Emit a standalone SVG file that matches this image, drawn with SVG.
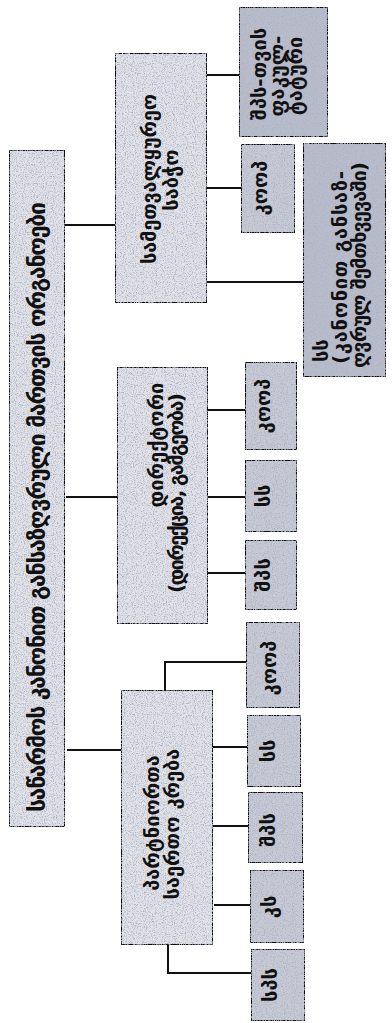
<svg xmlns="http://www.w3.org/2000/svg" width="392" height="1023" viewBox="0 0 392 1023">
<defs>
<filter id="grain" x="0" y="0" width="100%" height="100%">
<feTurbulence type="fractalNoise" baseFrequency="0.9" numOctaves="2" seed="4" result="n"/>
<feColorMatrix in="n" type="matrix" values="0 0 0 0 0.42  0 0 0 0 0.44  0 0 0 0 0.58  -3.2 0 0 0 1.75" result="dots"/>
<feComposite in="dots" in2="SourceGraphic" operator="in" result="d2"/>
<feMerge><feMergeNode in="SourceGraphic"/><feMergeNode in="d2"/></feMerge>
</filter>
</defs>
<style>
.box{stroke:#111;stroke-width:2;filter:url(#grain)}
.light{fill:#e2e3e7}
.dark{fill:#c8cbd4}
.darker{fill:#b9bdca}
.conn{stroke:#111;stroke-width:2;fill:none}
text{font-family:"DejaVu Sans","Noto Sans",sans-serif;fill:#111;dominant-baseline:central;font-weight:bold}
.t1{font-size:23px;text-anchor:middle}
.t2{font-size:20px;text-anchor:middle}
.t3{font-size:20px;text-anchor:middle}
.ts{font-size:20px;text-anchor:start}
</style>

<g id="connectors">
<path class="conn" d="M65 225H115M66 497H117M67 750H121"/>
<path class="conn" d="M207 75H239M207 188H241M207 282H303"/>
<path class="conn" d="M208 410H245M208 497H245M208 573H245"/>
<path class="conn" d="M165 690V662H246M212 747H247M213 826H248M214 905H250M168 945V973H251"/>
</g>

<g id="root">
<rect class="box light" x="9" y="150" width="56" height="677"/>
<text class="t1" transform="translate(37,507) rotate(-90)" textLength="610">საწარმოს კანონით განსაზღვრული მართვის ორგანოები</text>
</g>

<g id="supervisory">
<rect class="box light" x="115" y="53" width="92" height="250"/>
<text class="t2" transform="translate(149,179) rotate(-90)" textLength="170">სამეთვალყურეო</text>
<text class="t2" transform="translate(171,180) rotate(-90)">საბჭო</text>
</g>

<g id="llc-optional">
<rect class="box darker" x="239" y="7" width="89" height="130"/>
<text class="t3" transform="translate(259,74) rotate(-90)">შპს-თვის</text>
<text class="t3" transform="translate(277,76) rotate(-90)">ფაკულ-</text>
<text class="t3" transform="translate(295,76) rotate(-90)">ტატური</text>
</g>

<g id="sup-coop">
<rect class="box dark" x="241" y="144" width="54" height="89"/>
<text class="t3" transform="translate(260,188) rotate(-90)">კოოპ</text>
</g>

<g id="sup-js">
<rect class="box darker" x="303" y="143" width="83" height="234"/>
<text class="ts" transform="translate(321,362) rotate(-90)">სს</text>
<text class="ts" transform="translate(340,364) rotate(-90)" textLength="193">(კანონით განსაზ-</text>
<text class="ts" transform="translate(359,368) rotate(-90)" textLength="206">ღვრულ შემთხვევაში)</text>
</g>

<g id="director">
<rect class="box light" x="117" y="367" width="91" height="257"/>
<text class="t2" transform="translate(156,445) rotate(-90)">დირექტორი</text>
<text class="t2" transform="translate(176,493) rotate(-90)" textLength="200">(დირექცია, გამგეობა)</text>
</g>

<g id="dir-coop">
<rect class="box dark" x="245" y="362" width="52" height="88"/>
<text class="t3" transform="translate(263,406) rotate(-90)">კოოპ</text>
</g>
<g id="dir-js">
<rect class="box dark" x="245" y="460" width="52" height="72"/>
<text class="t3" transform="translate(263,496) rotate(-90)">სს</text>
</g>
<g id="dir-llc">
<rect class="box dark" x="245" y="540" width="52" height="70"/>
<text class="t3" transform="translate(263,575) rotate(-90)">შპს</text>
</g>

<g id="partners">
<rect class="box light" x="121" y="690" width="92" height="255"/>
<text class="t2" transform="translate(152,823) rotate(-90)">პარტნიორთა</text>
<text class="t2" transform="translate(172,824) rotate(-90)">საერთო კრება</text>
</g>

<g id="p-coop">
<rect class="box dark" x="246" y="622" width="54" height="86"/>
<text class="t3" transform="translate(269,668) rotate(-90)">კოოპ</text>
</g>
<g id="p-js">
<rect class="box dark" x="247" y="715" width="54" height="72"/>
<text class="t3" transform="translate(268,751) rotate(-90)">სს</text>
</g>
<g id="p-llc">
<rect class="box dark" x="248" y="792" width="55" height="71"/>
<text class="t3" transform="translate(268,830) rotate(-90)">შპს</text>
</g>
<g id="p-ls">
<rect class="box dark" x="250" y="870" width="54" height="73"/>
<text class="t3" transform="translate(269,907) rotate(-90)">კს</text>
</g>
<g id="p-gp">
<rect class="box dark" x="251" y="949" width="54" height="72"/>
<text class="t3" transform="translate(270,985) rotate(-90)">სპს</text>
</g>
</svg>
